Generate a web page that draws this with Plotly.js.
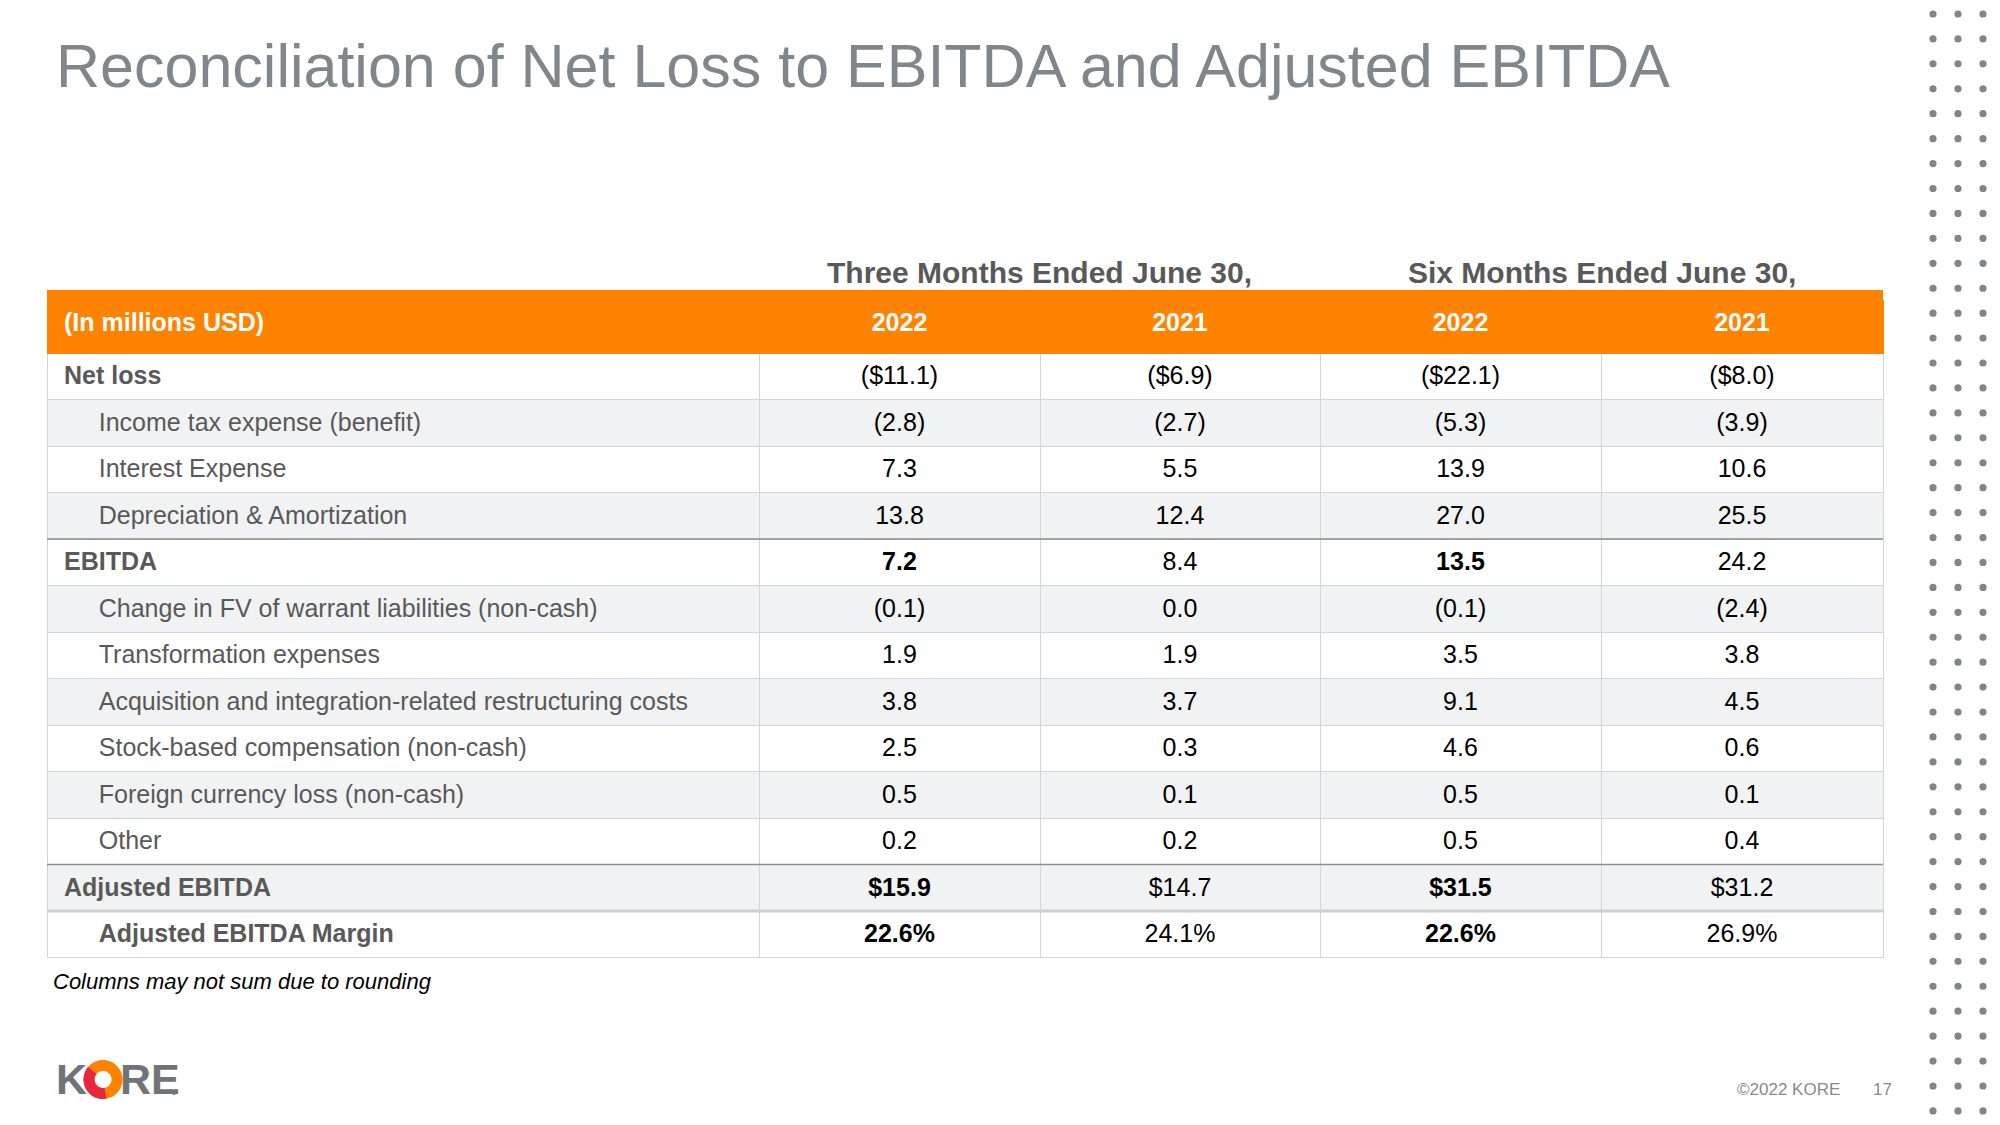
<!DOCTYPE html>
<html>
<head>
<meta charset="utf-8">
<script src="https://cdn.plot.ly/plotly-3.0.1.min.js"></script>
<style>html,body{margin:0;padding:0;background:#fff;}#chart{width:2000px;height:1125px;}</style>
</head>
<body>
<div id="chart"></div>
<script>
// ---------- DATA ----------
const titleText = "Reconciliation of Net Loss to EBITDA and Adjusted EBITDA";
const groupHeaders = ["Three Months Ended June 30,", "Six Months Ended June 30,"];
const headerLabels = ["(In millions USD)", "2022", "2021", "2022", "2021"];
const rowLabels = [
  "Net loss",
  "Income tax expense (benefit)",
  "Interest Expense",
  "Depreciation & Amortization",
  "EBITDA",
  "Change in FV of warrant liabilities (non-cash)",
  "Transformation expenses",
  "Acquisition and integration-related restructuring costs",
  "Stock-based compensation (non-cash)",
  "Foreign currency loss (non-cash)",
  "Other",
  "Adjusted EBITDA",
  "Adjusted EBITDA Margin"
];
const threeMonths2022 = [-11.1, -2.8, 7.3, 13.8, 7.2, -0.1, 1.9, 3.8, 2.5, 0.5, 0.2, 15.9, 22.6];
const threeMonths2021 = [-6.9, -2.7, 5.5, 12.4, 8.4, 0.0, 1.9, 3.7, 0.3, 0.1, 0.2, 14.7, 24.1];
const sixMonths2022   = [-22.1, -5.3, 13.9, 27.0, 13.5, -0.1, 3.5, 9.1, 4.6, 0.5, 0.5, 31.5, 22.6];
const sixMonths2021   = [-8.0, -3.9, 10.6, 25.5, 24.2, -2.4, 3.8, 4.5, 0.6, 0.1, 0.4, 31.2, 26.9];
// row kinds: total = bold, not indented; item = indented; margin = bold, indented
const rowKinds = ["total","item","item","item","total","item","item","item","item","item","item","total","margin"];
const dollarRows = ["Net loss", "Adjusted EBITDA"];
const percentRows = ["Adjusted EBITDA Margin"];
const boldValueRows = ["EBITDA", "Adjusted EBITDA", "Adjusted EBITDA Margin"];
const footnote = "Columns may not sum due to rounding";
const footerText = "©2022 KORE";
const pageNumber = "17";

// ---------- STYLE ----------
const FONT = "Liberation Sans, Arial, sans-serif";
const W = 2000, H = 1125;
const ORANGE = "#FF8300";
const GREY_FILL = "#f1f2f3";
const LABEL_COLOR = "#595959";
const colEdges = [47, 759, 1040, 1320, 1601, 1883];
const bandTop = 290, bandBottom = 353, headerTop = 300, rowH = 46.5;
const headerH = bandBottom - headerTop;

function fmt(v, label) {
  const isDollar = dollarRows.includes(label);
  const isPct = percentRows.includes(label);
  let s = Math.abs(v).toFixed(1);
  if (isDollar) s = "$" + s;
  if (isPct) s = s + "%";
  if (v < 0) s = "(" + s + ")";
  return s;
}
const OUTDENT = "\u00a0\u200a";
const INDENT = "\u00a0".repeat(6) + "\u200a";
const labelText = rowLabels.map((l, i) => {
  const k = rowKinds[i];
  if (k === "total") return "<span>" + OUTDENT + "<b>" + l + "</b></span>";
  if (k === "margin") return "<span>" + INDENT + "<b>" + l + "</b></span>";
  return "<span>" + INDENT + l + "</span>";
});
function valCol(arr, bold) {
  return arr.map((v, i) => {
    const s = fmt(v, rowLabels[i]);
    return (bold && boldValueRows.includes(rowLabels[i])) ? "<span><b>" + s + "</b></span>" : "<span>" + s + "</span>";
  });
}
const cellValues = [
  labelText,
  valCol(threeMonths2022, true),
  valCol(threeMonths2021, false),
  valCol(sixMonths2022, true),
  valCol(sixMonths2021, false)
];
const rowFill = rowLabels.map((_, i) => (i % 2 === 0 ? "#ffffff" : GREY_FILL));
const fills = cellValues.map(() => rowFill);
const colWidths = colEdges.slice(1).map((e, i) => e - colEdges[i]);

const table = {
  type: "table",
  domain: {x: [colEdges[0] / W, colEdges[5] / W], y: [0, 1 - headerTop / H]},
  columnwidth: colWidths,
  header: {
    values: headerLabels.map(h => "<span>" + (h.startsWith("(") ? OUTDENT : "") + "<b>" + h + "</b></span>"),
    align: ["left", "center", "center", "center", "center"],
    height: headerH,
    fill: {color: ORANGE},
    line: {color: ORANGE, width: 1},
    font: {family: FONT, size: 25, color: "#ffffff"}
  },
  cells: {
    values: cellValues,
    align: ["left", "center", "center", "center", "center"],
    height: rowH,
    fill: {color: fills},
    line: {color: "#d4d4d4", width: 1},
    font: {family: FONT, size: 25, color: [LABEL_COLOR, "#000", "#000", "#000", "#000"]}
  }
};

// ---------- DECORATIONS ----------
const shapes = [];
// top part of the orange header band
shapes.push({type: "rect", xref: "x", yref: "y", x0: colEdges[0], x1: colEdges[5], y0: bandTop, y1: headerTop + 1,
  fillcolor: ORANGE, line: {width: 0}, layer: "above"});
// darker separator lines above EBITDA and Adjusted EBITDA
["EBITDA", "Adjusted EBITDA"].forEach(lbl => {
  const y = bandBottom + rowLabels.indexOf(lbl) * rowH;
  shapes.push({type: "line", xref: "x", yref: "y", x0: colEdges[0], x1: colEdges[5], y0: y, y1: y,
    line: {color: "#8c8c8c", width: 1.5}, layer: "above"});
});
{
  const y = bandBottom + rowLabels.indexOf("Adjusted EBITDA Margin") * rowH;
  shapes.push({type: "line", xref: "x", yref: "y", x0: colEdges[0], x1: colEdges[5], y0: y, y1: y,
    line: {color: "#d0d0d0", width: 3}, layer: "above"});
}
// dot grid on right edge
for (let r = 0; r < 45; r++) {
  for (let c = 0; c < 3; c++) {
    const cx = 1933 + c * 25, cy = 14 + r * 24.93, rad = 3.6;
    shapes.push({type: "circle", xref: "x", yref: "y", x0: cx - rad, x1: cx + rad, y0: cy - rad, y1: cy + rad,
      fillcolor: "#7f868b", line: {width: 0}, layer: "above"});
  }
}
// KORE logo ring
function ringPath(cx, cy, r1, r2, a0, a1, n) {
  let p = "";
  for (let i = 0; i <= n; i++) {
    const a = (a0 + (a1 - a0) * i / n) * Math.PI / 180;
    p += (i === 0 ? "M" : "L") + (cx + r2 * Math.cos(a)).toFixed(2) + "," + (cy + r2 * Math.sin(a)).toFixed(2);
  }
  for (let i = n; i >= 0; i--) {
    const a = (a0 + (a1 - a0) * i / n) * Math.PI / 180;
    p += "L" + (cx + r1 * Math.cos(a)).toFixed(2) + "," + (cy + r1 * Math.sin(a)).toFixed(2);
  }
  return p + "Z";
}
const lc = {x: 103, y: 1079.5};
shapes.push({type: "path", xref: "x", yref: "y", path: ringPath(lc.x, lc.y, 8.5, 19.5, 0, 359.9, 72),
  fillcolor: "#FF8300", line: {width: 0}, layer: "above"});
shapes.push({type: "path", xref: "x", yref: "y", path: ringPath(lc.x, lc.y, 8.5, 19.5, 80, 220, 40),
  fillcolor: "#E8263D", line: {width: 0}, layer: "above"});

const annotations = [
  {text: titleText, x: 54, y: 66, xanchor: "left", yanchor: "middle",
    font: {family: FONT, size: 61, color: "#7f878c"}},
  {text: "<b>" + groupHeaders[0] + "</b>", x: (colEdges[1] + colEdges[3]) / 2, y: 272, xanchor: "center", yanchor: "middle",
    font: {family: FONT, size: 30, color: LABEL_COLOR}},
  {text: "<b>" + groupHeaders[1] + "</b>", x: (colEdges[3] + colEdges[5]) / 2, y: 272, xanchor: "center", yanchor: "middle",
    font: {family: FONT, size: 30, color: LABEL_COLOR}},
  {text: "<i>" + footnote + "</i>", x: 51, y: 981, xanchor: "left", yanchor: "middle",
    font: {family: FONT, size: 22, color: "#000000"}},
  {text: footerText, x: 1842, y: 1089, xanchor: "right", yanchor: "middle",
    font: {family: FONT, size: 17, color: "#8a8a8a"}},
  {text: pageNumber, x: 1882, y: 1089, xanchor: "center", yanchor: "middle",
    font: {family: FONT, size: 17, color: "#8a8a8a"}},
  {text: "<b>K</b>", x: 54, y: 1079, xanchor: "left", yanchor: "middle",
    font: {family: FONT, size: 43, color: "#6f7479"}},
  {text: "<b>RE</b>", x: 118, y: 1079, xanchor: "left", yanchor: "middle",
    font: {family: FONT, size: 43, color: "#6f7479"}},
  {text: "<b>.</b>", x: 170, y: 1090, xanchor: "left", yanchor: "middle",
    font: {family: FONT, size: 14, color: "#6f7479"}}
].map(a => Object.assign({xref: "x", yref: "y", showarrow: false}, a));

const layout = {
  width: W, height: H,
  margin: {l: 0, r: 0, t: 0, b: 0, pad: 0},
  paper_bgcolor: "#ffffff", plot_bgcolor: "rgba(0,0,0,0)",
  showlegend: false,
  xaxis: {range: [0, W], visible: false, fixedrange: true, domain: [0, 1]},
  yaxis: {range: [H, 0], visible: false, fixedrange: true, domain: [0, 1]},
  shapes: shapes,
  annotations: annotations
};
const anchor = {type: "scatter", x: [], y: [], xaxis: "x", yaxis: "y", hoverinfo: "skip"};
Plotly.newPlot("chart", [anchor, table], layout, {staticPlot: true, displayModeBar: false});
</script>
</body>
</html>
